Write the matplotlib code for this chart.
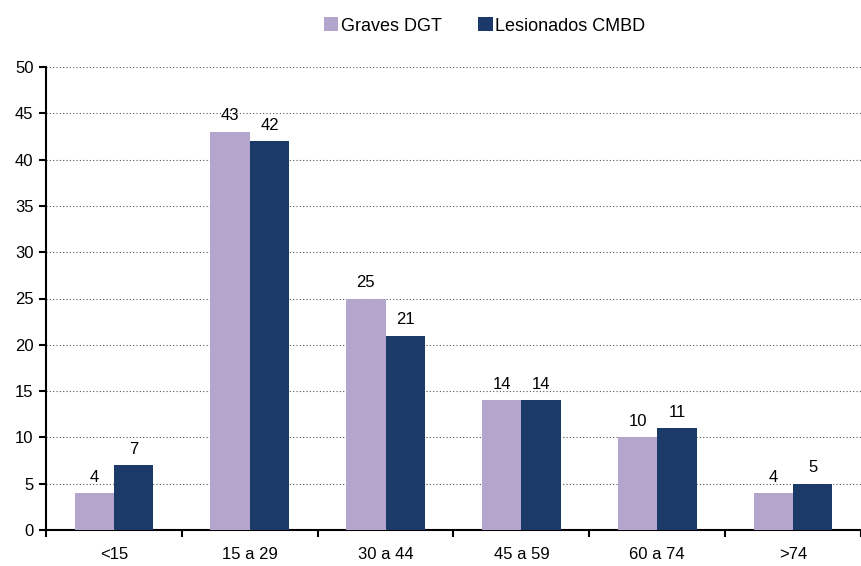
import matplotlib
matplotlib.use("Agg")
import matplotlib.pyplot as plt
import numpy as np

categories = ["<15", "15 a 29", "30 a 44", "45 a 59", "60 a 74", ">74"]
graves_dgt = [4, 43, 25, 14, 10, 4]
lesionados_cmbd = [7, 42, 21, 14, 11, 5]
series_names = ["Graves DGT", "Lesionados CMBD"]

plt.rcParams['font.family'] = ['Liberation Sans', 'DejaVu Sans']

fig = plt.figure(figsize=(8.61, 5.66), dpi=100)
L = 46 / 861
B = 1 - 530 / 566
T = 1 - 67 / 566
ax = fig.add_axes([L, B, 1 - L, T - B])

x = np.arange(len(categories))
w = 0.29
c1 = "#B3A5CB"
c2 = "#1B3A6A"
b1 = ax.bar(x - w / 2, graves_dgt, w, color=c1, label=series_names[0], zorder=3)
b2 = ax.bar(x + w / 2, lesionados_cmbd, w, color=c2, label=series_names[1], zorder=3)

for rect, v in zip(b1, graves_dgt):
    ax.annotate(str(v), (rect.get_x() + rect.get_width() / 2, v), xytext=(0, 6),
                textcoords="offset points", ha="center", va="bottom", fontsize=12)
for rect, v in zip(b2, lesionados_cmbd):
    ax.annotate(str(v), (rect.get_x() + rect.get_width() / 2, v), xytext=(0, 6),
                textcoords="offset points", ha="center", va="bottom", fontsize=12)

ax.set_ylim(0, 50)
ax.set_yticks(range(0, 51, 5))
ax.set_xlim(-0.5, 5.42)
ax.set_xticks(x)
ax.set_xticklabels(categories, fontsize=12)
ax.set_xticks(np.arange(-0.5, 6, 1), minor=True)
ax.tick_params(axis='x', which='major', length=0, pad=12)
ax.tick_params(axis='x', which='minor', length=5, width=1.5, direction='out')
ax.tick_params(axis='y', length=5, width=1.5, direction='out', labelsize=12, pad=4)

ax.yaxis.grid(True, linestyle=(0, (1, 2)), color="#555555", linewidth=0.8, zorder=0)
ax.set_axisbelow(True)
for s in ["top", "right"]:
    ax.spines[s].set_visible(False)
ax.spines["left"].set_linewidth(1.5)
ax.spines["bottom"].set_linewidth(1.5)

fig.legend(loc="upper center", bbox_to_anchor=(0.563, 0.998), ncol=2, frameon=False,
           fontsize=13, handlelength=0.8, handleheight=0.8, handletextpad=0.15,
           columnspacing=2.0)

fig.savefig("out.png", dpi=100)
